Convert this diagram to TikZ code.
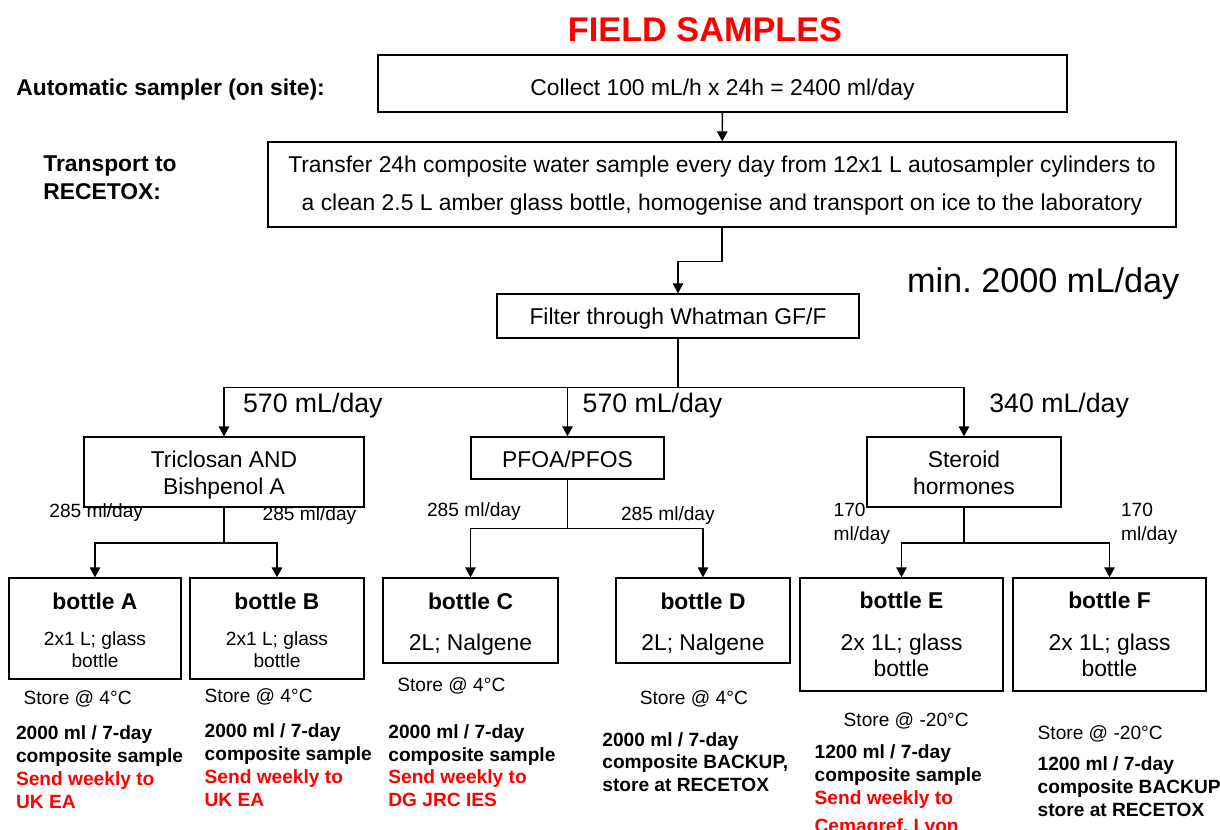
\documentclass[tikz,border=0pt]{standalone}
\usepackage{fontspec}
\setmainfont{Liberation Sans}
\usetikzlibrary{arrows.meta}
\newcommand\fntTitle{\fontsize{19.5}{23}\selectfont\bfseries}
\newcommand\fntBig{\fontsize{19.5}{23}\selectfont}
\newcommand\fntMid{\fontsize{15.2}{18}\selectfont}
\newcommand\fntBox{\fontsize{13}{15.1}\selectfont}
\newcommand\fntWide{\fontsize{13}{21.5}\selectfont}
\newcommand\fntHead{\fontsize{13}{15.9}\selectfont\bfseries}
\newcommand\fntSmall{\fontsize{10.9}{12.5}\selectfont}
\newcommand\fntTwo{\fontsize{10.9}{13.6}\selectfont}
\newcommand\fntNote{\fontsize{10.9}{13}\selectfont\bfseries}
\tikzstyle{box}=[draw=black,line width=0.8pt,inner sep=0pt,align=center,font=\fntBox,text depth=0pt]
\tikzstyle{lbl}=[inner sep=0pt,anchor=base west,align=left]
\tikzstyle{ln}=[line width=0.8pt]
\tikzstyle{arr}=[line width=0.8pt,-{Triangle[length=5.7pt,width=6pt]}]

\begin{document}
\begin{tikzpicture}[x=0.02cm,y=-0.02cm]
    \useasboundingbox (0,0) rectangle (1220,829);
    \node[lbl,anchor=base,font=\fntTitle,text=red] (0) at (705,41.7) {FIELD SAMPLES};
    \node[lbl,font=\fntHead] (1) at (16,95) {Automatic sampler (on site):};
    \node[lbl,font=\fntHead] (2) at (43,199.3) {Transport to\\RECETOX:};
    \node[box,minimum width=13.78cm,minimum height=1.14cm,text height=14.2pt] (3) at (722.5,83.5) {Collect 100 mL/h x 24h = 2400 ml/day};
    \node[box,minimum width=18.16cm,minimum height=1.70cm,font=\fntWide,text height=29.7pt] (4) at (722,184.5) {Transfer 24h composite water sample every day from 12x1 L autosampler cylinders to\\a clean 2.5 L amber glass bottle, homogenise and transport on ice to the laboratory};
    \node[lbl,font=\fntBig] (5) at (906.7,292.3) {min.\ 2000 mL/day};
    \node[box,minimum width=7.24cm,minimum height=0.88cm,text height=9.4pt] (6) at (678,316) {Filter through Whatman GF/F};
    \node[box,minimum width=5.60cm,minimum height=1.40cm,text height=25.3pt] (7) at (224,472) {Triclosan AND\\Bishpenol A};
    \node[box,minimum width=3.86cm,minimum height=0.84cm,text height=11pt] (8) at (567.5,458) {PFOA/PFOS};
    \node[box,minimum width=3.88cm,minimum height=1.40cm,text height=25.3pt] (9) at (964,472) {Steroid\\hormones};
    \node[lbl,font=\fntMid] (10) at (242.7,412.3) {570 mL/day};
    \node[lbl,font=\fntMid] (11) at (582.3,412.3) {570 mL/day};
    \node[lbl,font=\fntMid] (12) at (989,412.3) {340 mL/day};
    \node[lbl,font=\fntSmall] (13) at (49,517.3) {285 ml/day};
    \node[lbl,font=\fntSmall] (14) at (262.3,520) {285 ml/day};
    \node[lbl,font=\fntSmall] (15) at (426.7,516.7) {285 ml/day};
    \node[lbl,font=\fntSmall] (16) at (620.7,520.7) {285 ml/day};
    \node[lbl,font=\fntTwo] (17) at (833.3,540.7) {170\\ml/day};
    \node[lbl,font=\fntTwo] (18) at (1120.7,540.7) {170\\ml/day};
    \node[box,minimum width=3.44cm,minimum height=2.02cm,font=\fntSmall,text height=44.8pt] (19) at (95,628.5) {{\fntHead bottle A}\\[8.5pt]2x1 L; glass\\bottle};
    \node[box,minimum width=3.48cm,minimum height=2.02cm,font=\fntSmall,text height=44.8pt] (20) at (277,628.5) {{\fntHead bottle B}\\[8.5pt]2x1 L; glass\\bottle};
    \node[box,minimum width=3.50cm,minimum height=1.70cm,text height=34.2pt] (21) at (470.5,620.5) {{\bfseries bottle C}\\[8.4pt]2L; Nalgene};
    \node[box,minimum width=3.48cm,minimum height=1.70cm,text height=34.2pt] (22) at (703,620.5) {{\bfseries bottle D}\\[8.4pt]2L; Nalgene};
    \node[box,minimum width=4.06cm,minimum height=2.26cm,text height=48.2pt] (23) at (901.5,634.5) {{\bfseries bottle E}\\[8.7pt]2x 1L; glass\\bottle};
    \node[box,minimum width=3.86cm,minimum height=2.26cm,text height=48.2pt] (24) at (1109.5,634.5) {{\bfseries bottle F}\\[8.7pt]2x 1L; glass\\bottle};
    \node[lbl,font=\fntSmall] (25) at (23.3,704) {Store @ 4°C};
    \node[lbl,font=\fntSmall] (26) at (204.3,702) {Store @ 4°C};
    \node[lbl,font=\fntSmall] (27) at (397,691.7) {Store @ 4°C};
    \node[lbl,font=\fntSmall] (28) at (639.5,704) {Store @ 4°C};
    \node[lbl,font=\fntSmall] (29) at (843.3,726.7) {Store @ -20°C};
    \node[lbl,font=\fntSmall] (30) at (1037.3,739) {Store @ -20°C};
    \node[lbl,font=\fntNote] (31) at (15.7,808.3) {2000 ml / 7-day\\composite sample\\\textcolor{red}{Send weekly to}\\\textcolor{red}{UK EA}};
    \node[lbl,font=\fntNote] (32) at (204.3,806) {2000 ml / 7-day\\composite sample\\\textcolor{red}{Send weekly to}\\\textcolor{red}{UK EA}};
    \node[lbl,font=\fntNote] (33) at (388,806.7) {2000 ml / 7-day\\composite sample\\\textcolor{red}{Send weekly to}\\\textcolor{red}{DG JRC IES}};
    \node[lbl,font=\fntNote] (34) at (602,791.7) {2000 ml / 7-day\\composite BACKUP,\\store at RECETOX};
    \node[lbl,font=\fntNote] (35) at (814.3,832) {1200 ml / 7-day\\composite sample\\\textcolor{red}{Send weekly to}\\[2.6pt]\textcolor{red}{Cemagref, Lyon}};
    \node[lbl,font=\fntNote] (36) at (1037.3,816) {1200 ml / 7-day\\composite BACKUP\\store at RECETOX};
    \draw[arr] (3) -- (4);
    \draw[arr] (4.south) -- ++(0,34) -| (6.north);
    \draw[ln] (6.south) -- ++(0,48.7) coordinate (j0);
    \draw[arr] (j0) -| (7.north);
    \draw[arr] (j0) -| (8.north);
    \draw[arr] (j0) -| (9.north);
    \draw[ln] (7.south) -- ++(0,35.3) coordinate (j1);
    \draw[arr] (j1) -| (19.north);
    \draw[arr] (j1) -| (20.north);
    \draw[ln] (8.south) -- ++(0,49) coordinate (j2);
    \draw[arr] (j2) -| (21.north);
    \draw[arr] (j2) -| (22.north);
    \draw[ln] (9.south) -- ++(0,35.3) coordinate (j3);
    \draw[arr] (j3) -| (23.north);
    \draw[arr] (j3) -| (24.north);
\end{tikzpicture}
\end{document}
